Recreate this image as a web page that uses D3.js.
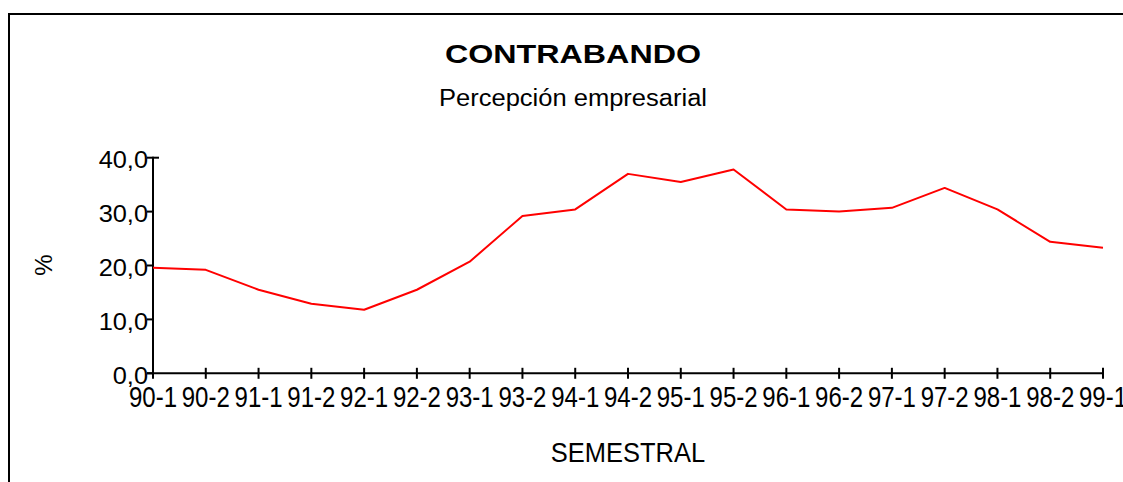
<!DOCTYPE html>
<html>
<head>
<meta charset="utf-8">
<script src="https://cdn.jsdelivr.net/npm/d3@7"></script>
<style>
  html, body { margin: 0; padding: 0; background: #fff; }
  svg { display: block; font-family: "Liberation Sans", Arial, sans-serif; }
</style>
</head>
<body>
<svg id="chart" width="1123" height="482"></svg>
<script>
const categories = ["90-1","90-2","91-1","91-2","92-1","92-2","93-1","93-2","94-1","94-2",
                    "95-1","95-2","96-1","96-2","97-1","97-2","98-1","98-2","99-1"];
const values = [19.6, 19.2, 15.5, 12.9, 11.8, 15.5, 20.7, 29.2, 30.4, 37.0,
                35.5, 37.8, 30.4, 30.0, 30.7, 34.4, 30.4, 24.4, 23.3];
const yTicks = [0, 10, 20, 30, 40];
const title = "CONTRABANDO";
const subtitle = "Percepción empresarial";
const xTitle = "SEMESTRAL";
const yTitle = "%";

const svg = d3.select("#chart");

// frame (top + left border)
svg.append("path")
  .attr("d", "M9,482 L9,14 L1123,14")
  .attr("fill", "none").attr("stroke", "#000").attr("stroke-width", 2);

const x = d3.scalePoint().domain(categories).range([153, 1103]);
const y = d3.scaleLinear().domain([0, 40]).range([373.3, 157.7]);

const fmt = v => d3.format(".1f")(v).replace(".", ",");

// Titles
svg.append("text").attr("x", 573).attr("y", 62.5)
  .attr("text-anchor", "middle").attr("font-size", 26.5).attr("font-weight", "bold")
  .attr("textLength", 256).attr("lengthAdjust", "spacingAndGlyphs")
  .text(title);
svg.append("text").attr("x", 573).attr("y", 106)
  .attr("text-anchor", "middle").attr("font-size", 23.5)
  .attr("textLength", 268).attr("lengthAdjust", "spacingAndGlyphs")
  .text(subtitle);

// Y axis
const yAxis = svg.append("g");
yAxis.append("line")
  .attr("x1", 153).attr("x2", 153).attr("y1", y(40) - 1).attr("y2", y(0))
  .attr("stroke", "#000").attr("stroke-width", 2);
yAxis.selectAll("line.tick").data(yTicks).join("line")
  .attr("class", "tick")
  .attr("x1", 147).attr("x2", d => d === 40 ? 159 : 153)
  .attr("y1", d => y(d)).attr("y2", d => y(d))
  .attr("stroke", "#000").attr("stroke-width", 2);
yAxis.selectAll("text").data(yTicks).join("text")
  .attr("transform", d => `translate(148,${y(d) + 10.6}) scale(1.08,1)`)
  .attr("text-anchor", "end").attr("font-size", 23.5)
  .text(d => fmt(d));

// X axis
const xAxis = svg.append("g");
xAxis.append("line")
  .attr("x1", 147).attr("x2", 1104).attr("y1", y(0)).attr("y2", y(0))
  .attr("stroke", "#000").attr("stroke-width", 2);
xAxis.selectAll("line.tick").data(categories).join("line")
  .attr("class", "tick")
  .attr("x1", d => x(d)).attr("x2", d => x(d))
  .attr("y1", y(0) - 5.5).attr("y2", y(0) + 5.5)
  .attr("stroke", "#000").attr("stroke-width", 2);
xAxis.selectAll("text").data(categories).join("text")
  .attr("transform", d => `translate(${x(d)},406.7) scale(1,1.22)`)
  .attr("text-anchor", "middle").attr("font-size", 24)
  .text(d => d);

// Axis titles
svg.append("text")
  .attr("transform", "translate(52,265) rotate(-90)")
  .attr("text-anchor", "middle").attr("font-size", 24)
  .text(yTitle);
svg.append("text")
  .attr("transform", "translate(628,461.7) scale(1,1.1)")
  .attr("text-anchor", "middle").attr("font-size", 25.5)
  .text(xTitle);

// Line
const line = d3.line().x((d, i) => x(categories[i])).y(d => y(d));
svg.append("path").datum(values)
  .attr("d", line)
  .attr("fill", "none").attr("stroke", "#ff0000").attr("stroke-width", 2)
  .attr("stroke-linejoin", "round");
</script>
</body>
</html>
